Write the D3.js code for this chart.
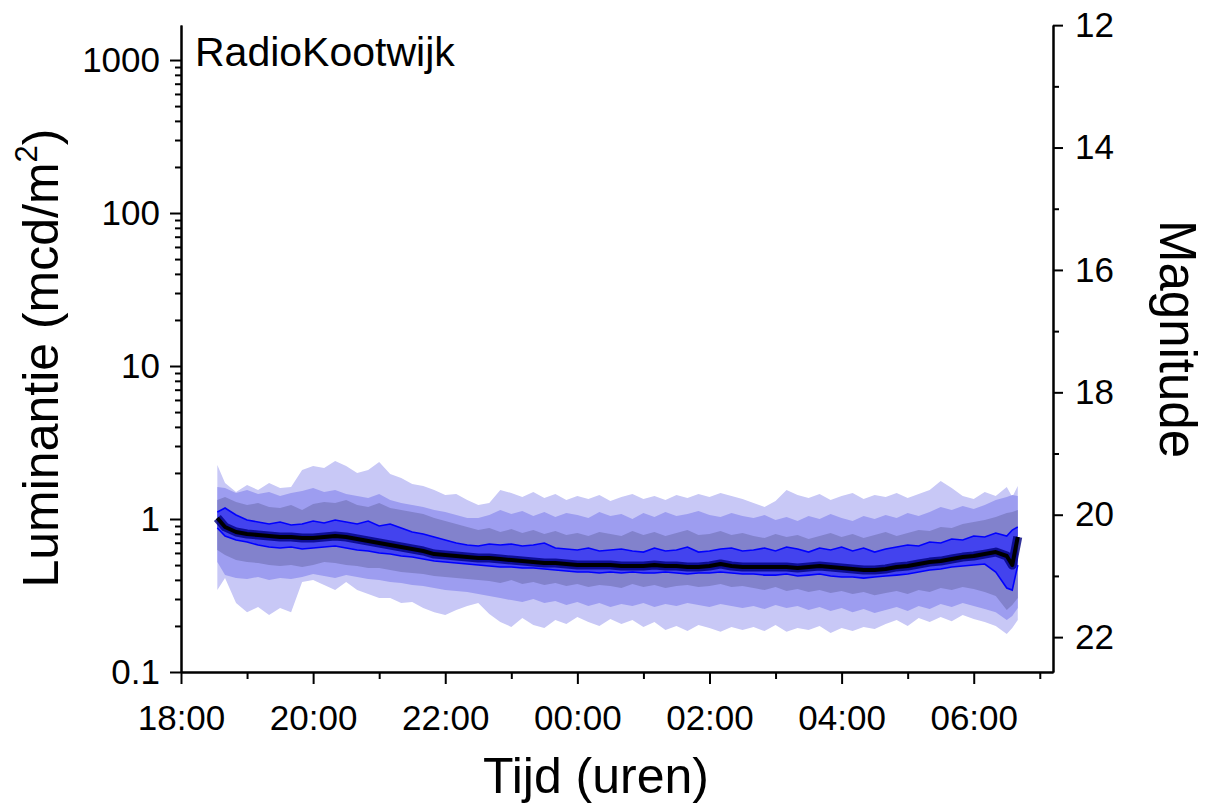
<!DOCTYPE html>
<html><head><meta charset="utf-8">
<script src="https://cdn.jsdelivr.net/npm/d3@7"></script>
<style>
body{margin:0;background:#fff;}
svg text{font-family:"Liberation Sans",Arial,sans-serif;fill:#000;}
</style></head><body>
<svg id="chart" width="1211" height="804"></svg>
<script>
// ---- data (luminance in mcd/m2) ----
const times = ["18:33","18:40","18:50","19:00","19:10","19:20","19:30","19:40","19:50","20:00","20:10","20:20","20:30","20:40","20:50","21:00","21:10","21:20","21:30","21:40","21:50","22:00","22:10","22:20",
"22:30","22:40","22:50","23:00","23:10","23:20","23:30","23:40","23:50","00:00","00:10","00:20","00:30","00:40","00:50","01:00","01:10","01:20","01:30","01:40","01:50","02:00","02:10","02:20","02:30",
"02:40","02:50","03:00","03:10","03:20","03:30","03:40","03:50","04:00","04:10","04:20","04:30","04:40","04:50","05:00","05:10","05:20","05:30","05:40","05:50","06:00","06:10","06:20","06:30","06:35","06:40"];

const median = [1.015,0.887,0.822,0.798,0.786,0.774,0.763,0.763,0.751,0.751,0.763,0.774,0.763,0.740,0.718,0.697,0.676,0.656,0.637,0.618,0.590,0.582,0.573,0.564,
0.556,0.556,0.548,0.539,0.531,0.523,0.516,0.516,0.508,0.500,0.500,0.500,0.500,0.493,0.493,0.493,0.500,0.493,0.493,0.486,0.486,0.493,0.508,0.493,0.486,
0.486,0.486,0.486,0.486,0.478,0.486,0.493,0.486,0.478,0.471,0.464,0.464,0.471,0.486,0.493,0.508,0.523,0.531,0.548,0.564,0.573,0.590,0.608,0.573,0.500,0.763];

const outerHi = [2.254,1.719,1.501,1.668,1.547,1.719,1.594,1.619,2.091,2.220,2.154,2.394,2.220,1.998,2.091,2.358,1.968,1.853,1.693,1.643,1.547,1.435,1.457,1.331,
1.235,1.272,1.547,1.479,1.392,1.501,1.372,1.457,1.331,1.414,1.351,1.435,1.311,1.392,1.457,1.351,1.414,1.331,1.435,1.372,1.457,1.392,1.479,1.414,1.351,
1.272,1.198,1.311,1.547,1.435,1.372,1.457,1.331,1.414,1.479,1.351,1.435,1.392,1.479,1.372,1.457,1.547,1.772,1.594,1.414,1.351,1.501,1.414,1.619,1.392,1.643];

const outerLo = [0.343,0.411,0.282,0.246,0.266,0.236,0.262,0.246,0.387,0.399,0.370,0.343,0.387,0.343,0.323,0.304,0.304,0.282,0.287,0.262,0.246,0.236,0.254,0.270,
0.282,0.239,0.212,0.197,0.225,0.203,0.194,0.219,0.206,0.229,0.212,0.200,0.222,0.206,0.219,0.197,0.212,0.188,0.200,0.185,0.203,0.194,0.183,0.197,0.188,
0.197,0.185,0.203,0.183,0.194,0.188,0.200,0.180,0.194,0.185,0.197,0.191,0.206,0.219,0.200,0.225,0.212,0.229,0.215,0.236,0.222,0.212,0.200,0.177,0.194,0.219];

const midHi = [1.619,1.594,1.479,1.547,1.457,1.501,1.414,1.479,1.524,1.594,1.501,1.547,1.457,1.414,1.372,1.457,1.331,1.272,1.235,1.198,1.145,1.111,1.062,1.015,
1.015,1.062,1.145,1.078,1.128,1.046,1.111,1.031,1.094,1.062,1.015,1.111,1.046,1.078,1.000,1.094,1.031,1.111,1.046,1.078,1.128,1.062,1.031,1.094,1.046,
1.015,1.062,0.985,1.031,0.970,1.046,1.000,1.078,1.015,0.970,1.046,1.000,1.062,1.015,1.094,1.046,1.111,1.198,1.145,1.216,1.162,1.235,1.331,1.392,1.435,1.414];

const midLo = [0.523,0.430,0.411,0.405,0.418,0.399,0.411,0.405,0.418,0.437,0.424,0.411,0.430,0.418,0.405,0.399,0.387,0.382,0.370,0.365,0.354,0.343,0.338,0.333,
0.323,0.314,0.304,0.295,0.287,0.300,0.282,0.291,0.274,0.287,0.270,0.282,0.266,0.278,0.270,0.282,0.266,0.278,0.270,0.282,0.274,0.266,0.278,0.270,0.262,
0.270,0.258,0.274,0.262,0.270,0.254,0.266,0.250,0.262,0.246,0.258,0.243,0.254,0.266,0.250,0.270,0.258,0.278,0.266,0.282,0.270,0.258,0.246,0.219,0.232,0.262];

const grayHi = [1.331,1.392,1.291,1.235,1.272,1.198,1.180,1.235,1.145,1.253,1.291,1.272,1.331,1.235,1.198,1.272,1.180,1.145,1.111,1.078,1.015,0.970,0.928,0.887,
0.847,0.873,0.822,0.860,0.810,0.847,0.798,0.835,0.786,0.810,0.774,0.822,0.798,0.774,0.835,0.786,0.822,0.774,0.810,0.847,0.786,0.798,0.835,0.786,0.810,
0.774,0.751,0.798,0.763,0.786,0.740,0.774,0.810,0.763,0.798,0.751,0.786,0.822,0.774,0.810,0.847,0.835,0.887,0.873,0.928,0.956,0.985,1.031,1.094,1.111,1.145];

const grayLo = [0.627,0.582,0.539,0.523,0.516,0.500,0.493,0.500,0.486,0.500,0.523,0.516,0.500,0.493,0.478,0.478,0.464,0.450,0.444,0.437,0.424,0.418,0.411,0.405,
0.399,0.393,0.382,0.399,0.376,0.387,0.370,0.382,0.365,0.376,0.359,0.370,0.365,0.354,0.376,0.359,0.370,0.354,0.365,0.370,0.359,0.365,0.376,0.359,0.365,
0.354,0.343,0.359,0.338,0.349,0.333,0.343,0.328,0.338,0.323,0.333,0.318,0.328,0.338,0.323,0.343,0.333,0.354,0.343,0.359,0.349,0.333,0.314,0.254,0.274,0.304];

const innerHi = [1.111,1.180,1.062,0.985,0.956,0.928,0.956,0.914,0.928,0.970,0.942,0.985,0.956,0.928,0.970,0.900,0.928,0.873,0.822,0.798,0.763,0.729,0.697,0.676,
0.666,0.686,0.676,0.686,0.666,0.676,0.697,0.646,0.637,0.627,0.646,0.618,0.627,0.637,0.618,0.608,0.646,0.618,0.627,0.656,0.608,0.618,0.637,0.646,0.618,
0.627,0.646,0.618,0.656,0.637,0.608,0.646,0.627,0.656,0.618,0.646,0.608,0.637,0.656,0.676,0.666,0.707,0.697,0.740,0.729,0.774,0.763,0.810,0.774,0.847,0.887];

const innerLo = [0.873,0.774,0.729,0.707,0.676,0.656,0.646,0.656,0.637,0.646,0.656,0.666,0.646,0.627,0.618,0.599,0.590,0.573,0.564,0.548,0.531,0.523,0.516,0.508,
0.500,0.493,0.486,0.486,0.478,0.478,0.471,0.464,0.457,0.450,0.450,0.444,0.450,0.444,0.450,0.444,0.444,0.450,0.444,0.437,0.444,0.444,0.450,0.444,0.437,
0.437,0.430,0.430,0.437,0.424,0.430,0.437,0.424,0.418,0.418,0.411,0.418,0.424,0.430,0.437,0.450,0.464,0.471,0.486,0.493,0.500,0.508,0.450,0.354,0.343,0.500];

const yTickValues = [0.1, 1, 10, 100, 1000];
const yTickLabels = ["0.1", "1", "10", "100", "1000"];
const magTickValues = [12, 14, 16, 18, 20, 22];
const magMinorValues = [13, 15, 17, 19, 21];
const xTickLabels = ["18:00","20:00","22:00","00:00","02:00","04:00","06:00"];
const xMinorLabels = ["19:00","21:00","23:00","01:00","03:00","05:00","07:00"];

// ---- setup ----
const svg = d3.select("#chart");
const P = {left: 181, right: 1053, top: 25, bottom: 672};
const MAG_ZERO = 20.07;          // magnitude at 1 mcd/m2
const L_TOP = 1694, L_BOTTOM = 0.1;

const parseT = s => { const [h, m] = s.split(":").map(Number); return new Date(2000, 0, 1, h < 12 ? h + 24 : h, m); };
const x = d3.scaleTime().domain([new Date(2000,0,1,18,0), new Date(2000,0,1,31,12)]).range([P.left, P.right]);
const y = d3.scaleLog().domain([L_BOTTOM, L_TOP]).range([P.bottom, P.top]);
const mag = d3.scaleLinear().domain([MAG_ZERO - 2.5*Math.log10(L_TOP), MAG_ZERO - 2.5*Math.log10(L_BOTTOM)]).range([P.top, P.bottom]);

const rows = times.map((t, i) => ({
  t: parseT(t), med: median[i],
  oH: outerHi[i], oL: outerLo[i], mH: midHi[i], mL: midLo[i],
  gH: grayHi[i], gL: grayLo[i], iH: innerHi[i], iL: innerLo[i]
}));

svg.append("clipPath").attr("id","clip").append("rect")
  .attr("x", P.left).attr("y", P.top).attr("width", P.right - P.left).attr("height", P.bottom - P.top);
const plot = svg.append("g").attr("clip-path","url(#clip)");

const band = (lo, hi) => d3.area().x(d => x(d.t)).y0(d => y(d[lo])).y1(d => y(d[hi]));
const lineOf = k => d3.line().x(d => x(d.t)).y(d => y(d[k]));

plot.append("path").datum(rows).attr("d", band("oL","oH")).attr("fill","#c8c8f6");
plot.append("path").datum(rows).attr("d", band("mL","mH")).attr("fill","#9d9df0");
plot.append("path").datum(rows).attr("d", band("gL","gH")).attr("fill","#8282cc");
plot.append("path").datum(rows).attr("d", band("iL","iH")).attr("fill","#4343ee");
plot.append("path").datum(rows).attr("d", lineOf("iH")).attr("fill","none").attr("stroke","#0000ff").attr("stroke-width",1.6);
plot.append("path").datum(rows).attr("d", lineOf("iL")).attr("fill","none").attr("stroke","#0000ff").attr("stroke-width",1.6);
plot.append("path").datum(rows).attr("d", lineOf("med")).attr("fill","none").attr("stroke","#000080").attr("stroke-opacity",0.8).attr("stroke-width",9).attr("stroke-linejoin","round");
plot.append("path").datum(rows).attr("d", lineOf("med")).attr("fill","none").attr("stroke","#000").attr("stroke-width",4).attr("stroke-linejoin","round");

// ---- axes ----
const styleAxis = g => {
  g.selectAll("path.domain").attr("stroke","#000").attr("stroke-width",2);
  g.selectAll(".tick line").attr("stroke","#000").attr("stroke-width",2);
  g.selectAll(".tick text").attr("font-family","'Liberation Sans', Arial, sans-serif").attr("font-size",35).attr("fill","#000");
};

// left log axis
const yMinor = [];
yTickValues.forEach(b => { for (let k = 2; k <= 9; k++) { const v = b * k; if (v < L_TOP) yMinor.push(v); } });
svg.append("g").attr("transform",`translate(${P.left},0)`)
  .call(d3.axisLeft(y).tickValues(yMinor).tickSize(6).tickSizeOuter(0).tickFormat(""))
  .call(styleAxis);
svg.append("g").attr("transform",`translate(${P.left},0)`)
  .call(d3.axisLeft(y).tickValues(yTickValues).tickSize(11).tickSizeOuter(0).tickPadding(10)
        .tickFormat((d, i) => yTickLabels[i]))
  .call(styleAxis);

// bottom time axis
svg.append("g").attr("transform",`translate(0,${P.bottom})`)
  .call(d3.axisBottom(x).tickValues(xMinorLabels.map(parseT)).tickSize(7).tickSizeOuter(0).tickFormat(""))
  .call(styleAxis);
svg.append("g").attr("transform",`translate(0,${P.bottom})`)
  .call(d3.axisBottom(x).tickValues(xTickLabels.map(parseT)).tickSize(12).tickSizeOuter(0).tickPadding(21)
        .tickFormat((d, i) => xTickLabels[i]))
  .call(styleAxis);

// right magnitude axis
svg.append("g").attr("transform",`translate(${P.right},0)`)
  .call(d3.axisRight(mag).tickValues(magMinorValues).tickSize(6).tickSizeOuter(0).tickFormat(""))
  .call(styleAxis);
svg.append("g").attr("transform",`translate(${P.right},0)`)
  .call(d3.axisRight(mag).tickValues(magTickValues).tickSize(10).tickSizeOuter(0).tickPadding(12).tickFormat(d3.format("d")))
  .call(styleAxis);

// ---- titles ----
svg.append("text").attr("x", 195).attr("y", 66).attr("font-size", 41).text("RadioKootwijk");

svg.append("text").attr("x", 596).attr("y", 793).attr("text-anchor","middle").attr("font-size", 50).text("Tijd (uren)");

svg.append("text").attr("transform","translate(1160,339) rotate(90)").attr("text-anchor","middle")
  .attr("font-size", 51).text("Magnitude");

const yl = svg.append("text").attr("transform","translate(58,358) rotate(-90)").attr("text-anchor","middle").attr("font-size", 50);
yl.append("tspan").text("Luminantie (mcd/m");
yl.append("tspan").attr("font-size", 31).attr("dy", -21).text("2");
yl.append("tspan").attr("dy", 21).text(")");
</script>
</body></html>
